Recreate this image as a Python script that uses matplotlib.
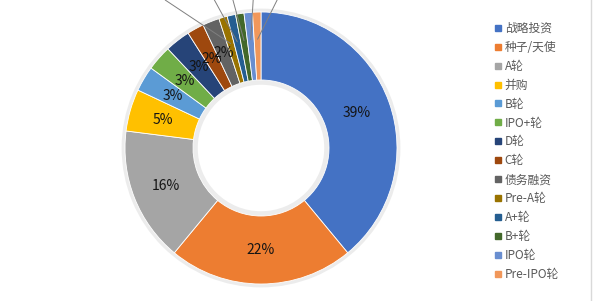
import matplotlib
matplotlib.use("Agg")
import matplotlib.pyplot as plt
from matplotlib.lines import Line2D
import numpy as np

plt.rcParams['font.family'] = ['Noto Sans CJK SC', 'DejaVu Sans']

# data
categories = ['战略投资', '种子/天使', 'A轮', '并购', 'B轮', 'IPO+轮', 'D轮', 'C轮',
              '债务融资', 'Pre-A轮', 'A+轮', 'B+轮', 'IPO轮', 'Pre-IPO轮']
shares = [39, 22, 16, 5, 3, 3, 3, 2, 2, 1, 1, 1, 1, 1]
colors = ['#4472C4', '#ED7D31', '#A5A5A5', '#FFC000', '#5B9BD5', '#70AD47', '#264478',
          '#9E480E', '#636363', '#997300', '#255E91', '#43682B', '#698ED0', '#F1975A']

# small slices get leader lines to labels above the donut (mostly cropped off)
n_inside = 9
outside_label_pos = [(-0.80, 1.10), (-0.41, 1.16), (-0.24, 1.16), (-0.05, 1.16), (0.18, 1.16)]

fig = plt.figure(figsize=(6.0, 3.01), dpi=100)
ax = fig.add_axes([125 / 600, 17 / 301, 272 / 600, 272 / 301])

# faint shadow ring behind the donut
ax.pie([1], colors=['#ececec'], radius=1.025, startangle=90,
       wedgeprops=dict(width=0.56, linewidth=0))
wedges, _ = ax.pie(shares, colors=colors, startangle=90, counterclock=False, radius=1.0,
                   wedgeprops=dict(width=0.5, edgecolor='white', linewidth=0.6))
ax.set_xlim(-1, 1)
ax.set_ylim(-1, 1)
ax.set_aspect('equal')
ax.axis('off')

total = float(sum(shares))
for i, (w, v) in enumerate(zip(wedges, shares)):
    mid = np.deg2rad((w.theta1 + w.theta2) / 2)
    if i < n_inside:
        ax.text(0.75 * np.cos(mid), 0.75 * np.sin(mid), f"{v / total * 100:.0f}%",
                ha='center', va='center', fontsize=10, fontweight='medium', color='#141414')
    else:
        tx, ty = outside_label_pos[i - n_inside]
        ax.annotate(f"{v / total * 100:.0f}%", xy=(0.8 * np.cos(mid), 0.8 * np.sin(mid)),
                    xytext=(tx, ty), ha='center', va='bottom', fontsize=10,
                    fontweight='medium', color='#141414', annotation_clip=False,
                    arrowprops=dict(arrowstyle='-', color='#7f7f7f', lw=0.7,
                                    shrinkA=0, shrinkB=0))

handles = [Line2D([], [], marker='s', linestyle='none', markersize=4,
                  markerfacecolor=c, markeredgecolor=c) for c in colors]
fig.legend(handles, categories, loc='upper left', bbox_to_anchor=(494 / 600, 1 - 22 / 301),
           frameon=False, fontsize=8.5, labelcolor='#595959', handlelength=0.6,
           handletextpad=0.3, labelspacing=0.5, borderpad=0, borderaxespad=0)

# right border of the chart area
fig.add_artist(Line2D([591 / 600, 591 / 600], [0, 1], color='#d9d9d9', lw=1.0,
                      transform=fig.transFigure))

fig.savefig('out.png', dpi=100, facecolor='white')
